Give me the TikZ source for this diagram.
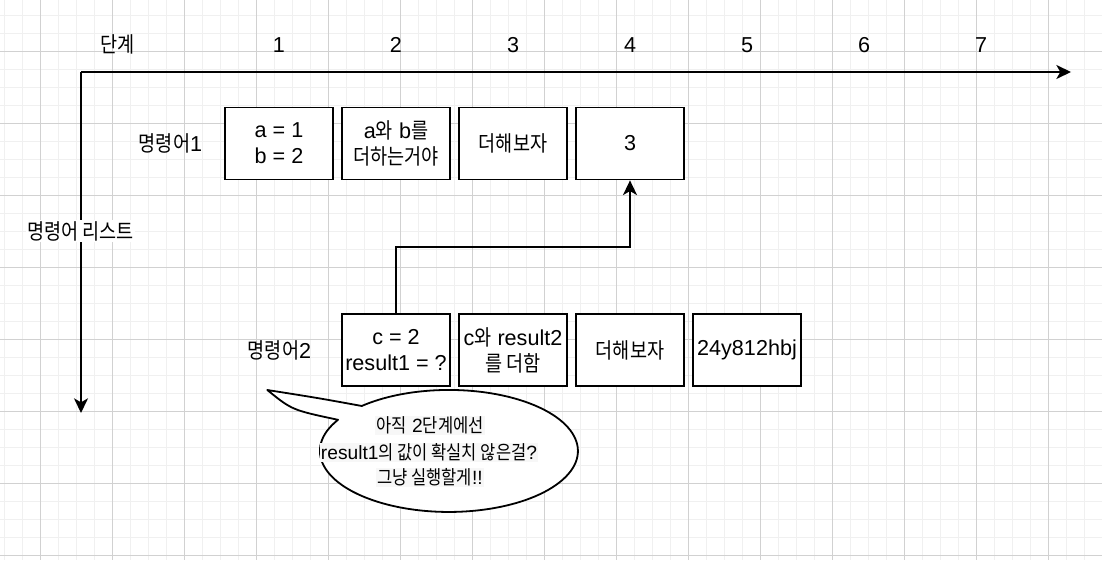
\documentclass[tikz,border=0pt]{standalone}
\usepackage{fontspec}
\setmainfont{Liberation Sans}
\newfontfamily\ko[FakeStretch=0.86]{Noto Sans CJK KR}
\newcommand{\K}[1]{{\ko #1}}
\usetikzlibrary{arrows.meta,calc}
\begin{document}
\begin{tikzpicture}[x=0.75pt,y=-0.75pt,
  txt/.style={font=\fontsize{16.2}{19.5}\selectfont, align=center, inner sep=0pt},
  stepbox/.style={txt, draw, line width=1.35pt, fill=white, minimum width=81pt, minimum height=54pt},
  axis/.style={line width=1.35pt, -{Stealth[length=11pt,width=10.5pt,inset=3pt]}},
  conn/.style={line width=1.35pt, -{Stealth[length=11pt,width=10.5pt,inset=3pt]}},
  small/.style={font=\fontsize{14.4}{17}\selectfont, inner sep=0.8pt, fill=black!3},
  minorgrid/.style={draw=black!6, line width=0.75pt},
  majorgrid/.style={draw=black!18, line width=0.75pt}]
\useasboundingbox (0,0) rectangle (1102,560);
\fill[white] (0,0) rectangle (1102,560);
% grid
\foreach \x in {4.7,22.7,...,1102} \draw[minorgrid] (\x,0) -- (\x,560);
\foreach \y in {15.7,33.7,...,560} \draw[minorgrid] (0,\y) -- (1102,\y);
\foreach \x in {40.7,112.7,...,1102} \draw[majorgrid] (\x,0) -- (\x,560);
\foreach \y in {51.7,123.7,...,560} \draw[majorgrid] (0,\y) -- (1102,\y);
% axes
\coordinate (O) at (81,72);
\coordinate (X) at (1071,72);
\coordinate (Y) at (81,413);
\draw[axis] (O) -- (X);
\draw[axis] (O) -- (Y);
% axis labels
\node[txt] (lstep) at (117.5,44.5) {\K{단계}};
\node[txt] (n1) at (279,45) {1};
\node[txt] (n2) at (396,45) {2};
\node[txt] (n3) at (513,45) {3};
\node[txt] (n4) at (630,45) {4};
\node[txt] (n5) at (747,45) {5};
\node[txt] (n6) at (864,45) {6};
\node[txt] (n7) at (981,45) {7};
\node[txt, fill=white, inner sep=1pt] (llist) at (80.5,231) {\K{명령어 리스트}};
\node[txt] (lc1) at (170.5,143) {\K{명령어}1};
\node[txt] (lc2) at (279.5,350) {\K{명령어}2};
% row 1
\node[stepbox] (b11) at (279,143.5) {a = 1\\b = 2};
\node[stepbox] (b12) at (396,143.5) {a\K{와} b\K{를}\\\K{더하는거야}};
\node[stepbox] (b13) at (513,143.5) {\K{더해보자}};
\node[stepbox] (b14) at (630,143.5) {3};
% row 2
\node[stepbox] (b21) at (396,350.3) {c = 2\\result1 = ?};
\node[stepbox] (b22) at (513,350.3) {c\K{와} result2\\\K{를 더함}};
\node[stepbox] (b23) at (630,350.3) {\K{더해보자}};
\node[stepbox] (b24) at (747,350.3) {24y812hbj};
% connector
\coordinate (bend) at (630,246.7);
\draw[conn] (b21.north) |- (bend) -- (b14.south);
% callout
\coordinate (A) at (361.9,406);
\coordinate (tip) at (267.3,390);
\coordinate (B) at (338,419.8);
\draw[line width=1.35pt, fill=white, line join=round]
  (A) .. controls (318,398) .. (tip)
      .. controls (292,410) .. (B)
      arc[start angle=149.3, end angle=492.5, x radius=96.75pt, y radius=45.75pt] -- cycle;
\node[small] (t1) at (430,425.5) {\K{아직} 2\K{단계에선}};
\node[small] (t2) at (429,452.5) {result1\K{의 값이 확실치 않은걸}?};
\node[small] (t3) at (430,477.5) {\K{그냥 실행할게}!!};
\end{tikzpicture}
\end{document}
